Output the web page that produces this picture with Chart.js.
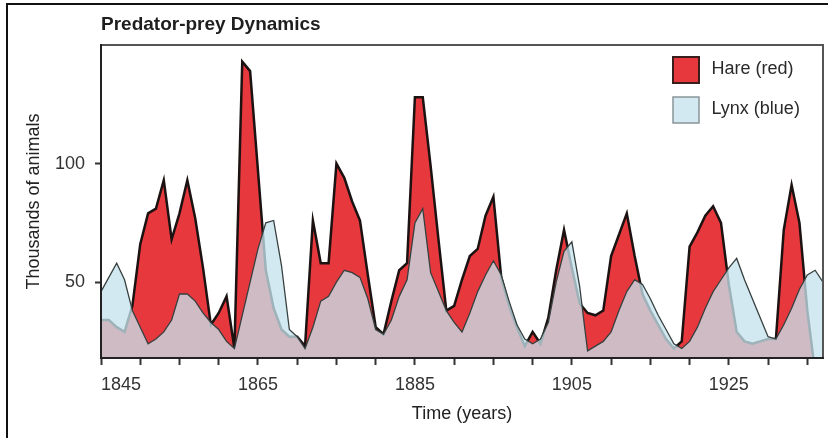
<!DOCTYPE html>
<html>
<head>
<meta charset="utf-8">
<script src="https://cdn.jsdelivr.net/npm/chart.js@4.4.1/dist/chart.umd.min.js"></script>
<style>
html, body { margin: 0; padding: 0; background: #ffffff; }
#wrap { position: relative; width: 828px; height: 438px; overflow: hidden; background: #ffffff; }
#frame { position: absolute; left: 6px; top: 3px; width: 900px; height: 500px; border-left: 2px solid #111; border-top: 2px solid #111; }
#c { position: absolute; left: 0; top: 0; }
</style>
</head>
<body>
<div id="wrap"><div id="frame"></div><canvas id="c" width="828" height="438"></canvas></div>
<script>
// ---- data (thousands of animals) ----
const years = [
  1845, 1846, 1847, 1848, 1849, 1850, 1851, 1852, 1853, 1854,
  1855, 1856, 1857, 1858, 1859, 1860, 1861, 1862, 1863, 1864,
  1865, 1866, 1867, 1868, 1869, 1870, 1871, 1872, 1873, 1874,
  1875, 1876, 1877, 1878, 1879, 1880, 1881, 1882, 1883, 1884,
  1885, 1886, 1887, 1888, 1889, 1890, 1891, 1892, 1893, 1894,
  1895, 1896, 1897, 1898, 1899, 1900, 1901, 1902, 1903, 1904,
  1905, 1906, 1907, 1908, 1909, 1910, 1911, 1912, 1913, 1914,
  1915, 1916, 1917, 1918, 1919, 1920, 1921, 1922, 1923, 1924,
  1925, 1926, 1927, 1928, 1929, 1930, 1931, 1932, 1933, 1934,
  1935, 1936, 1937
];
const hare = [
  34, 34, 31, 29, 40, 66, 79, 81, 93, 68,
  79, 93, 77, 56, 32, 37, 44, 22, 143, 139,
  97, 55, 39, 30, 27, 27, 23, 76, 58, 58,
  100, 94, 84, 76, 53, 31, 28, 42, 55, 58,
  128, 128, 99, 68, 38, 40, 51, 61, 64, 78,
  86, 52, 40, 31, 23, 29, 24, 35, 55, 72,
  56, 41, 37, 36, 38, 61, 70, 79, 61, 45,
  38, 32, 26, 22, 25, 65, 71, 78, 82, 75,
  49, 29, 25, 24, 25, 26, 26, 72, 91, 75,
  38, 12, 12
];
const lynx = [
  46, 52, 58, 51, 38, 31, 24, 26, 29, 34,
  45, 45, 42, 37, 33, 30, 25, 22, 36, 50,
  64, 75, 76, 57, 30, 27, 22, 31, 42, 44,
  50, 55, 54, 52, 43, 30, 28, 34, 44, 51,
  75, 81, 54, 46, 38, 33, 29, 37, 46, 53,
  59, 53, 42, 32, 26, 24, 26, 33, 50, 63,
  67, 48, 21, 23, 25, 29, 38, 46, 51, 49,
  43, 36, 30, 24, 22, 25, 31, 39, 46, 51,
  56, 60, 51, 43, 35, 27, 26, 32, 39, 47,
  53, 55, 50
];
const xTickYears = [1845, 1850, 1855, 1860, 1865, 1870, 1875, 1880, 1885, 1890,
                    1895, 1900, 1905, 1910, 1915, 1920, 1925, 1930, 1935];
const xLabelYears = [1845, 1865, 1885, 1905, 1925];
const yTickValues = [50, 100];
const seriesNames = ['Hare (red)', 'Lynx (blue)'];

// ---- styling ----
const FONT = "'Liberation Sans', Arial, Helvetica, sans-serif";
const HARE_FILL = 'rgb(231,56,62)';
const HARE_LINE = '#1c1212';
const LYNX_FILL = 'rgba(198,226,237,0.77)';
const LYNX_LINE = '#36403f';

const toPoints = (vals) => years.map((yr, i) => ({ x: yr, y: vals[i] }));

const plotFrame = {
  id: 'plotFrame',
  afterDatasetsDraw(chart) {
    const { ctx, chartArea: a } = chart;
    ctx.save();
    ctx.lineCap = 'square';
    ctx.lineWidth = 2;
    ctx.strokeStyle = '#555';
    ctx.beginPath();
    ctx.moveTo(a.left, a.top); ctx.lineTo(a.right, a.top); ctx.lineTo(a.right, a.bottom);
    ctx.stroke();
    ctx.strokeStyle = '#222';
    ctx.beginPath();
    ctx.moveTo(a.left, a.top); ctx.lineTo(a.left, a.bottom); ctx.lineTo(a.right, a.bottom);
    ctx.stroke();
    ctx.restore();
  }
};

const boxLegend = {
  id: 'boxLegend',
  afterDraw(chart) {
    const { ctx, chartArea: a } = chart;
    const order = seriesNames.map(n => chart.data.datasets.find(d => d.label === n));
    const size = 26, x0 = a.right - 150, y0 = a.top + 12, gap = 40;
    ctx.save();
    order.forEach((ds, i) => {
      const y = y0 + i * gap;
      ctx.fillStyle = ds.backgroundColor;
      ctx.fillRect(x0, y, size, size);
      ctx.lineWidth = ds.legendBorderWidth;
      ctx.strokeStyle = ds.legendBorder;
      ctx.strokeRect(x0, y, size, size);
      ctx.fillStyle = '#2a2a2a';
      ctx.font = '18px ' + FONT;
      ctx.textBaseline = 'middle';
      ctx.textAlign = 'left';
      ctx.fillText(ds.label, x0 + 38.5, y + size / 2 - 0.5);
    });
    ctx.restore();
  }
};

new Chart(document.getElementById('c'), {
  type: 'line',
  data: {
    datasets: [
      {
        label: seriesNames[1],
        data: toPoints(lynx),
        fill: 'start',
        backgroundColor: LYNX_FILL,
        borderColor: LYNX_LINE,
        borderWidth: 1.3,
        pointRadius: 0,
        tension: 0,
        clip: 0,
        order: 0,
        legendBorder: '#8a9599',
        legendBorderWidth: 1.5
      },
      {
        label: seriesNames[0],
        data: toPoints(hare),
        fill: 'start',
        backgroundColor: HARE_FILL,
        borderColor: HARE_LINE,
        borderWidth: 2.5,
        pointRadius: 0,
        tension: 0,
        clip: 0,
        order: 1,
        legendBorder: '#3a1d1d',
        legendBorderWidth: 2
      }
    ]
  },
  options: {
    responsive: false,
    animation: false,
    events: [],
    layout: { padding: { left: 0, right: 5, top: 0, bottom: 0 } },
    plugins: {
      legend: { display: false },
      tooltip: { enabled: false },
      title: {
        display: true,
        text: 'Predator-prey Dynamics',
        align: 'start',
        fullSize: false,
        color: '#1e1e1e',
        font: { family: FONT, size: 19, weight: 'bold' },
        padding: { top: 13.6, bottom: 8.6 }
      }
    },
    scales: {
      x: {
        type: 'linear',
        min: 1845,
        max: 1937,
        afterBuildTicks: (s) => { s.ticks = xTickYears.map(v => ({ value: v })); },
        afterFit: (s) => { s.height = 80; },
        ticks: {
          autoSkip: false,
          maxRotation: 0,
          align: 'inner',
          padding: 9,
          color: '#333',
          font: { family: FONT, size: 18 },
          callback: (v) => xLabelYears.includes(v) ? String(v) : ''
        },
        grid: { drawOnChartArea: false, drawTicks: true, tickLength: 7, tickWidth: 2, tickColor: '#333' },
        border: { display: true, color: '#222', width: 2 },
        title: {
          display: true,
          text: 'Time (years)',
          color: '#222',
          font: { family: FONT, size: 18 },
          padding: { top: 0, bottom: 13 }
        }
      },
      y: {
        type: 'linear',
        min: 18,
        max: 150,
        afterBuildTicks: (s) => { s.ticks = yTickValues.map(v => ({ value: v })); },
        afterFit: (s) => { s.width = 101; },
        ticks: {
          padding: 10,
          color: '#333',
          font: { family: FONT, size: 18 }
        },
        grid: { drawOnChartArea: false, drawTicks: true, tickLength: 6, tickWidth: 2, tickColor: '#333' },
        border: { display: true, color: '#222', width: 2 },
        title: {
          display: true,
          text: 'Thousands of animals',
          color: '#222',
          font: { family: FONT, size: 18 },
          padding: { top: 23, bottom: 0 }
        }
      }
    }
  },
  plugins: [plotFrame, boxLegend]
});
</script>
</body>
</html>
